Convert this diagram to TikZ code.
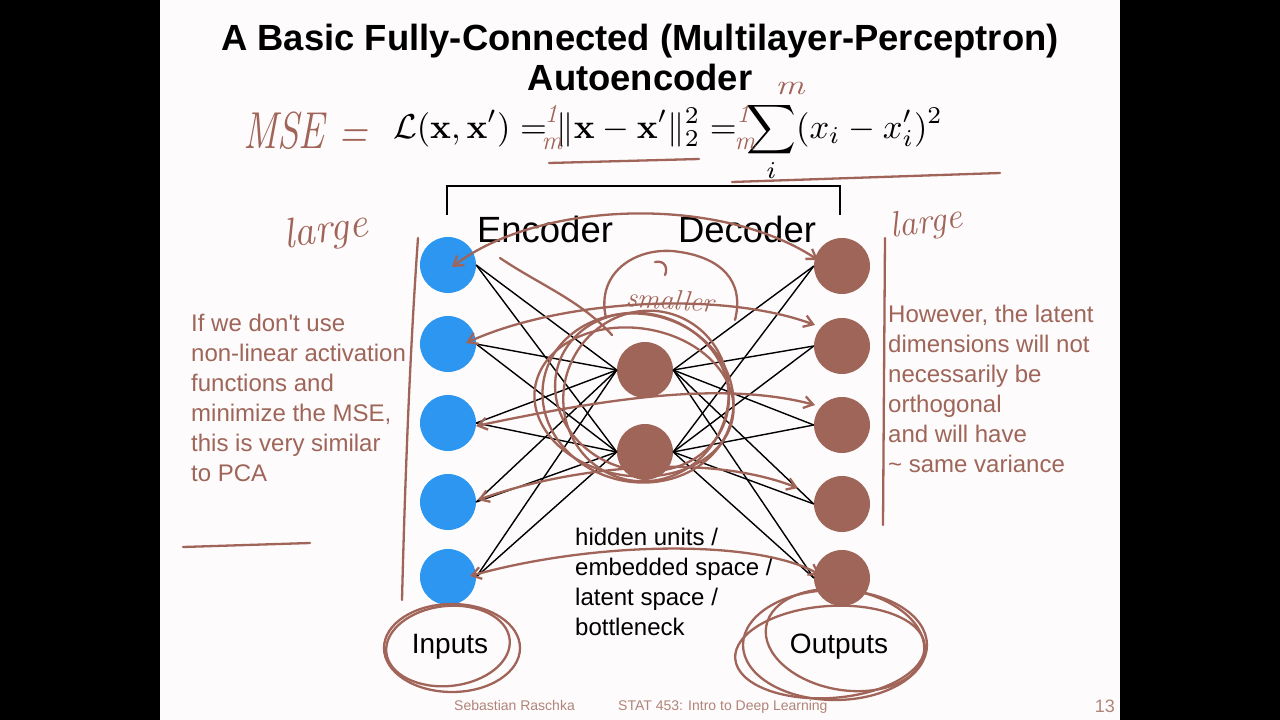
\documentclass[tikz,border=0pt]{standalone}
\usepackage{amsmath}
\usepackage[no-math]{fontspec}
\newfontfamily\lsans{Liberation Sans}
\usetikzlibrary{arrows.meta}
\definecolor{slidebg}{RGB}{253,251,252}
\definecolor{inblue}{RGB}{44,150,240}
\definecolor{nbrown}{RGB}{158,101,88}
\definecolor{ann}{RGB}{160,100,88}
\begin{document}
\begin{tikzpicture}[x=1pt,y=-1pt,
  title/.style={font=\lsans\bfseries\fontsize{36.4}{40}\selectfont, anchor=base, inner sep=0},
  lbl/.style={font=\lsans\fontsize{36.5}{40}\selectfont, anchor=base, inner sep=0},
  io/.style={font=\lsans\fontsize{28}{32}\selectfont, anchor=base, inner sep=0},
  body/.style={font=\lsans\fontsize{24}{30}\selectfont, anchor=base west, inner sep=0},
  foot/.style={font=\lsans\fontsize{14}{16}\selectfont, text=nbrown!80, anchor=base west, inner sep=0},
  innode/.style={circle, fill=inblue, minimum size=56pt, inner sep=0},
  bnode/.style={circle, fill=nbrown, minimum size=56pt, inner sep=0},
  conn/.style={draw=black, line width=1.4pt},
  annot/.style={draw=ann, line width=2.3pt, line cap=round, line join=round},
  annarr/.style={annot, {Straight Barb[length=9pt,width=12pt]}-{Straight Barb[length=9pt,width=12pt]}},
  hand/.style={font=\itshape, text=ann, inner sep=0}
]
\useasboundingbox (0,0) rectangle (1280,720);
\fill[black] (0,0) rectangle (1280,720);
\fill[slidebg] (160,0) rectangle (1120,720);

% title
\node[title] (t1) at (640,50) {A Basic Fully-Connected (Multilayer-Perceptron)};
\node[title] (t2) at (640,90) {Autoencoder};

% formula
\node[anchor=base, inner sep=0] (f) at (668,138) {\scalebox{3.45}{$\displaystyle \mathcal{L}(\mathbf{x},\mathbf{x}') = \|\mathbf{x}-\mathbf{x}'\|_2^2 = \sum_{i} (x_i - x_i')^2$}};

% bracket
\coordinate (bl) at (447,215);
\coordinate (br) at (840,215);
\draw[black, line width=1.3pt] (bl) -- (447,186) -- (840,186) -- (br);

% labels
\node[lbl] (enc) at (545,242) {Encoder};
\node[lbl] (dec) at (747,242) {Decoder};

% nodes
\node[innode] (in1) at (448,265) {};
\node[innode] (in2) at (448,344) {};
\node[innode] (in3) at (448,423) {};
\node[innode] (in4) at (448,502) {};
\node[innode] (in5) at (448,577) {};
\node[bnode] (h1) at (645,370) {};
\node[bnode] (h2) at (645,452) {};
\node[bnode] (out1) at (842,266) {};
\node[bnode] (out2) at (842,346) {};
\node[bnode] (out3) at (842,425) {};
\node[bnode] (out4) at (842,504) {};
\node[bnode] (out5) at (842,578) {};

\foreach \i in {1,...,5}{
  \foreach \j in {1,2}{
    \draw[conn] (in\i.east) -- (h\j.west);
    \draw[conn] (h\j.east) -- (out\i.west);
  }
}

% io labels
\node[io] (inl) at (450,653) {Inputs};
\node[io] (outl) at (839,653) {Outputs};

% hidden text
\node[body] (hid1) at (575,545) {hidden units /};
\node[body] (hid2) at (575,575) {embedded space /};
\node[body] (hid3) at (575,605) {latent space /};
\node[body] (hid4) at (575,635) {bottleneck};

% side texts
\begin{scope}[every node/.append style={text=nbrown}]
\node[body] (l1) at (191,331) {If we don't use};
\node[body] (l2) at (191,361) {non-linear activation};
\node[body] (l3) at (191,391) {functions and};
\node[body] (l4) at (191,421) {minimize the MSE,};
\node[body] (l5) at (191,451) {this is very similar};
\node[body] (l6) at (191,481) {to PCA};
\node[body] (r1) at (888,322) {However, the latent};
\node[body] (r2) at (888,352) {dimensions will not};
\node[body] (r3) at (888,382) {necessarily be};
\node[body] (r4) at (888,412) {orthogonal};
\node[body] (r5) at (888,442) {and will have};
\node[body] (r6) at (888,472) {\textasciitilde{} same variance};
\end{scope}

% footer
\node[foot] (fa) at (454,710) {Sebastian Raschka};
\node[foot] (fb) at (618,710) {STAT 453: Intro to Deep Learning};
\node[font=\lsans\fontsize{18}{20}\selectfont, text=nbrown!80, anchor=base east, inner sep=0] (pg) at (1115,712) {13};

% ---------- handwritten annotations ----------
\node[hand, font=\itshape\fontsize{52}{56}\selectfont, anchor=base west] (mse) at (243,148) {\scalebox{0.75}[1]{MSE =}};
\node[hand, font=\itshape\fontsize{26}{28}\selectfont] (o1) at (551,114) {1};
\node[hand, font=\itshape\fontsize{26}{28}\selectfont] (m1) at (552,144) {m};
\node[hand, font=\itshape\fontsize{26}{28}\selectfont] (o2) at (743,114) {1};
\node[hand, font=\itshape\fontsize{26}{28}\selectfont] (m2) at (745,144) {m};
\node[hand, font=\itshape\fontsize{28}{30}\selectfont] (msum) at (790,88) {\scalebox{1.3}[1]{m}};
\node[hand, font=\itshape\fontsize{42}{44}\selectfont, rotate=8] (lg1) at (326,232) {large};
\node[hand, font=\itshape\fontsize{36}{40}\selectfont, rotate=8] (lg2) at (926,224) {large};
\node[hand, font=\itshape\fontsize{28}{30}\selectfont, rotate=-4] (sm) at (670,300) {smaller};

\draw[annot] (549,163) -- (699,159);
\draw[annot] (732,182) -- (1000,173);
\draw[annot] (418,238) .. controls (410,350) and (405,480) .. (402,600);
\draw[annot] (885,238) -- (883,525);
\draw[annot] (183,547) -- (310,543);

% loops around inputs / outputs
\draw[annot] (452,648) ellipse [x radius=68pt, y radius=44pt];
\draw[annot] (448,646) ellipse [x radius=62pt, y radius=40pt, rotate=6];
\draw[annot] (835,645) ellipse [x radius=92pt, y radius=55pt];
\draw[annot] (845,640) ellipse [x radius=80pt, y radius=50pt, rotate=-10];
\draw[annot] (830,652) ellipse [x radius=95pt, y radius=46pt, rotate=4];

% loops around hidden layer
\draw[annot] (638,398) ellipse [x radius=96pt, y radius=84pt, rotate=-12];
\draw[annot] (642,392) ellipse [x radius=88pt, y radius=78pt, rotate=-20];
\draw[annot] (634,402) ellipse [x radius=100pt, y radius=74pt, rotate=-8];
\draw[annot] (646,396) ellipse [x radius=82pt, y radius=86pt, rotate=-25];
\draw[annot] (606,318) .. controls (595,270) and (640,245) .. (680,252) .. controls (720,258) and (745,280) .. (735,320);
\draw[annot] (655,262) .. controls (665,260) and (668,268) .. (665,275);
\draw[annot] (500,258) .. controls (540,285) and (580,300) .. (612,335);

% arrows between inputs and outputs
\draw[annarr] (452,267) .. controls (540,200) and (720,195) .. (818,260);
\draw[annarr] (466,343) .. controls (560,300) and (720,290) .. (815,325);
\draw[annarr] (476,426) .. controls (600,400) and (720,380) .. (815,405);
\draw[annarr] (478,500) .. controls (560,470) and (700,450) .. (798,488);
\draw[annarr] (470,576) .. controls (600,540) and (760,540) .. (820,575);
\end{tikzpicture}
\end{document}
